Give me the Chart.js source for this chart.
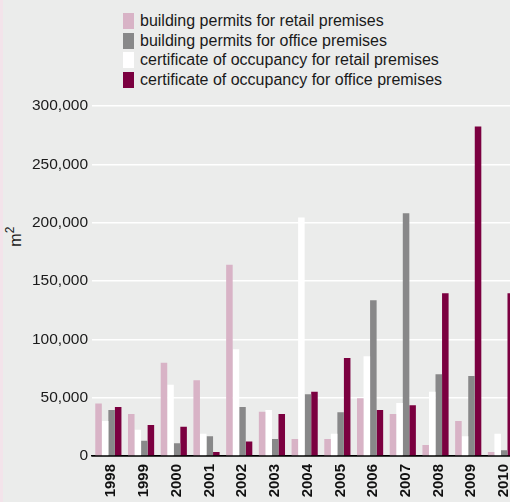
<!DOCTYPE html>
<html lang="en">
<head>
    <meta charset="UTF-8">
    <title>Retail and office premises</title>
    <script src="https://cdn.jsdelivr.net/npm/chart.js"></script>
    <style>
        body {
            margin: 0;
            width: 510px;
            height: 502px;
            overflow: hidden;
            background: #ebeceb;
            font-family: 'Liberation Sans', Arial, sans-serif;
            position: relative;
        }

        .strip {
            position: absolute;
            left: 0;
            top: 0;
            width: 3px;
            height: 502px;
            background: #f3e3ea;
        }

        .legend {
            position: absolute;
            left: 123px;
            top: 13px;
        }

        .legend-item {
            display: flex;
            align-items: center;
            height: 16px;
            margin-bottom: 3.7px;
            font-size: 16px;
            color: #1a1a1a;
        }

        .legend-item span.box {
            width: 11px;
            height: 16px;
            margin-right: 6px;
            flex: none;
        }

        .y-title {
            position: absolute;
            left: 4px;
            top: 226px;
            font-size: 16px;
            color: #1a1a1a;
            transform: rotate(-90deg);
            transform-origin: center;
        }

        .chart-box {
            position: absolute;
            left: 0;
            top: 0;
            width: 530px;
            height: 502px;
        }
    </style>
</head>
<body>
    <div class="strip"></div>
    <div class="legend" id="legend"></div>
    <div class="y-title">m<sup style="font-size:12px">2</sup></div>
    <div class="chart-box">
        <canvas id="chart" width="530" height="502"></canvas>
    </div>

    <script>
        // datos (m2)
        const years = ['1998', '1999', '2000', '2001', '2002', '2003', '2004', '2005', '2006', '2007', '2008', '2009', '2010'];
        const retailPermits = [45000, 36000, 80000, 65000, 164000, 38000, 14500, 14500, 49500, 36000, 9500, 30000, 3500];
        const retailOccupancy = [30000, 22500, 61000, 19000, 91500, 39500, 204500, 19000, 85500, 45500, 55000, 17000, 19000];
        const officePermits = [39500, 13000, 11000, 17000, 42000, 14500, 53000, 37500, 133500, 208000, 70000, 68500, 5000];
        const officeOccupancy = [42000, 26500, 25000, 3500, 12500, 36000, 55000, 84000, 39500, 43500, 139500, 282500, 139500];
        const yTicks = [0, 50000, 100000, 150000, 200000, 250000, 300000];

        const series = [
            { label: 'building permits for retail premises', data: retailPermits, color: '#d8b3c6' },
            { label: 'certificate of occupancy for retail premises', data: retailOccupancy, color: '#ffffff' },
            { label: 'building permits for office premises', data: officePermits, color: '#888889' },
            { label: 'certificate of occupancy for office premises', data: officeOccupancy, color: '#7b0040' }
        ];
        const legendOrder = [0, 2, 1, 3];

        // leyenda
        const legend = document.getElementById('legend');
        legendOrder.forEach(i => {
            const item = document.createElement('div');
            item.className = 'legend-item';
            item.innerHTML = '<span class="box" style="background:' + series[i].color + '"></span>' + series[i].label;
            legend.appendChild(item);
        });

        const ctx = document.getElementById('chart').getContext('2d');
        new Chart(ctx, {
            type: 'bar',
            data: {
                labels: years,
                datasets: series.map(s => ({
                    label: s.label,
                    data: s.data,
                    backgroundColor: s.color,
                    borderWidth: 0,
                    barPercentage: 1,
                    categoryPercentage: 0.8
                }))
            },
            options: {
                responsive: false,
                animation: false,
                layout: {
                    padding: { top: 106, right: 12.7, bottom: 0, left: 0 }
                },
                plugins: {
                    legend: { display: false },
                    tooltip: { enabled: false }
                },
                scales: {
                    x: {
                        grid: { display: false, drawTicks: false },
                        border: { display: true, color: '#000000', width: 1.5 },
                        ticks: {
                            color: '#111111',
                            font: { family: "'Liberation Sans', Arial, sans-serif", size: 15, weight: 'bold' },
                            minRotation: 90,
                            maxRotation: 90,
                            padding: 8,
                            labelOffset: 3
                        },
                        afterFit: scale => { scale.height = 46; }
                    },
                    y: {
                        min: 0,
                        max: 300000,
                        afterBuildTicks: scale => { scale.ticks = yTicks.map(v => ({ value: v })); },
                        grid: {
                            color: c => c.tick && c.tick.value === 0 ? '#000000' : '#ffffff',
                            lineWidth: 1.5,
                            drawTicks: false
                        },
                        border: { display: false },
                        ticks: {
                            color: '#1a1a1a',
                            font: { family: "'Liberation Sans', Arial, sans-serif", size: 15.5 },
                            padding: 4,
                            callback: v => v.toLocaleString('en-US')
                        },
                        afterFit: scale => { scale.width = 92; }
                    }
                }
            }
        });
    </script>
</body>
</html>
